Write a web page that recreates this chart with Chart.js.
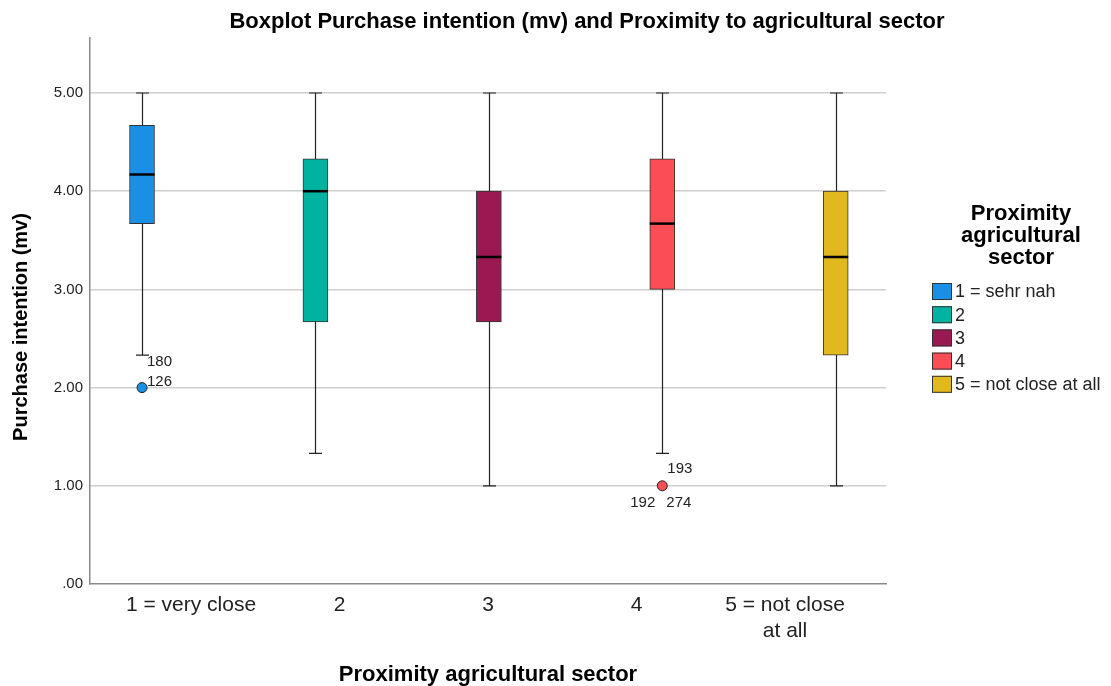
<!DOCTYPE html>
<html>
<head>
<meta charset="utf-8">
<script src="https://cdn.jsdelivr.net/npm/chart.js@4.4.0/dist/chart.umd.min.js"></script>
<style>
  html, body { margin: 0; padding: 0; background: #fff; }
  #wrap { width: 1111px; height: 686px; position: relative; }
</style>
</head>
<body>
<div id="wrap"><canvas id="myChart"></canvas></div>
<script>
// data
const groups = ['1 = very close', '2', '3', '4', ['5 = not close', 'at all']];
const legendLabels = ['1 = sehr nah', '2', '3', '4', '5 = not close at all'];
const colors = ['#1a8fe6', '#00b3a0', '#9c1852', '#fb4d56', '#e1b81d'];
const whiskerLow = [2.33, 1.33, 1.00, 1.33, 1.00];
const q1 = [3.67, 2.67, 2.67, 3.00, 2.33];
const median = [4.17, 4.00, 3.33, 3.67, 3.33];
const q3 = [4.67, 4.33, 4.00, 4.33, 4.00];
const whiskerHigh = [5.00, 5.00, 5.00, 5.00, 5.00];
const outlierGroup = [1, 4];
const outlierValue = [2.00, 1.00];
const outlierCases = [['126', '180'], ['193', '192', '274']];
const yTicks = [0, 1, 2, 3, 4, 5];

const FONT = 'Liberation Sans, Arial, sans-serif';
const mainTitle = 'Boxplot Purchase intention (mv) and Proximity to agricultural sector';
const yTitle = 'Purchase intention (mv)';
const legendTitle = ['Proximity', 'agricultural', 'sector'];

const ctx = document.getElementById('myChart');

// whiskers + caps under the boxes, medians and case labels over them
const boxParts = {
  id: 'boxParts',
  beforeDatasetsDraw(chart) {
    const c = chart.ctx, xs = chart.scales.x, ys = chart.scales.y;
    c.save();
    c.strokeStyle = '#222';
    c.lineWidth = 1.2;
    for (let i = 0; i < groups.length; i++) {
      const px = Math.round(xs.getPixelForValue(i + 1)) + 0.5;
      const lo = ys.getPixelForValue(whiskerLow[i]);
      const hi = ys.getPixelForValue(whiskerHigh[i]);
      c.beginPath();
      c.moveTo(px, lo); c.lineTo(px, hi);
      c.moveTo(px - 6.5, lo); c.lineTo(px + 6.5, lo);
      c.moveTo(px - 6.5, hi); c.lineTo(px + 6.5, hi);
      c.stroke();
    }
    c.restore();
  },
  afterDatasetsDraw(chart) {
    const c = chart.ctx, xs = chart.scales.x, ys = chart.scales.y;
    c.save();
    c.strokeStyle = '#000';
    c.lineWidth = 2.5;
    for (let i = 0; i < groups.length; i++) {
      const px = xs.getPixelForValue(i + 1);
      const py = ys.getPixelForValue(median[i]);
      c.beginPath();
      c.moveTo(px - 12.5, py); c.lineTo(px + 12.5, py);
      c.stroke();
    }
    c.fillStyle = '#222';
    c.font = '15px ' + FONT;
    c.textBaseline = 'middle';
    const p0x = xs.getPixelForValue(outlierGroup[0]), p0y = ys.getPixelForValue(outlierValue[0]);
    c.textAlign = 'left';
    c.fillText(outlierCases[0][0], p0x + 5, p0y - 6);
    c.fillText(outlierCases[0][1], p0x + 5, p0y - 26);
    const p1x = xs.getPixelForValue(outlierGroup[1]), p1y = ys.getPixelForValue(outlierValue[1]);
    c.fillText(outlierCases[1][0], p1x + 5, p1y - 17);
    c.textAlign = 'right';
    c.fillText(outlierCases[1][1], p1x - 7, p1y + 17);
    c.textAlign = 'left';
    c.fillText(outlierCases[1][2], p1x + 4, p1y + 17);
    c.restore();
  }
};

// titles and the legend on the right
const decor = {
  id: 'decor',
  afterDraw(chart) {
    const c = chart.ctx, ys = chart.scales.y;
    c.save();
    c.fillStyle = '#000';
    c.textBaseline = 'middle';
    c.textAlign = 'center';
    c.font = 'bold 22px ' + FONT;
    c.fillText(mainTitle, 587, 22);

    c.save();
    c.translate(21, (ys.top + ys.bottom) / 2 + 16);
    c.rotate(-Math.PI / 2);
    c.font = 'bold 20px ' + FONT;
    c.fillText(yTitle, 0, 0);
    c.restore();

    c.font = 'bold 22px ' + FONT;
    legendTitle.forEach((t, k) => c.fillText(t, 1021, 214 + k * 22));
    c.font = '18px ' + FONT;
    c.textAlign = 'left';
    legendLabels.forEach((t, i) => {
      const y = 291.5 + i * 23.2;
      c.fillStyle = colors[i];
      c.fillRect(932, y - 8.5, 20, 17);
      c.strokeStyle = '#333';
      c.lineWidth = 1;
      c.strokeRect(932.5, y - 8, 19, 16);
      c.fillStyle = '#222';
      c.fillText(t, 955, y + 1);
    });
    c.restore();
  }
};

new Chart(ctx, {
  data: {
    datasets: [{
      type: 'bar',
      label: 'box',
      data: groups.map((g, i) => ({ x: i + 1, y: [q1[i], q3[i]] })),
      backgroundColor: colors,
      borderColor: '#333',
      borderWidth: 1,
      borderSkipped: false,
      barThickness: 25,
      grouped: false,
      xAxisID: 'x',
      yAxisID: 'y'
    }, {
      type: 'scatter',
      label: 'outliers',
      data: outlierGroup.map((g, i) => ({ x: g, y: outlierValue[i] })),
      pointBackgroundColor: outlierGroup.map(g => colors[g - 1]),
      pointBorderColor: '#222',
      pointBorderWidth: 1,
      pointRadius: 5,
      xAxisID: 'x',
      yAxisID: 'y'
    }]
  },
  options: {
    responsive: true,
    maintainAspectRatio: false,
    animation: false,
    layout: { padding: { top: 38, right: 225, left: 0, bottom: 0 } },
    plugins: {
      legend: { display: false },
      tooltip: { enabled: false },
      title: { display: false }
    },
    scales: {
      x: {
        type: 'linear',
        min: 0.7,
        max: 5.29,
        offset: false,
        position: 'bottom',
        weight: 0,
        ticks: { display: false },
        grid: { display: false, drawTicks: false },
        border: { display: true, color: '#8a8a8a', width: 1.5 },
        afterFit: s => { s.height = 0; }
      },
      xl: {
        type: 'linear',
        min: 0.32,
        max: 5.68,
        offset: false,
        position: 'bottom',
        weight: 1,
        afterBuildTicks: s => { s.ticks = groups.map((g, i) => ({ value: i + 1 })); },
        afterFit: s => { s.height = 102; },
        grid: { display: false, drawTicks: false },
        border: { display: false },
        ticks: {
          color: '#222',
          font: { family: FONT, size: 21 },
          padding: 9,
          maxRotation: 0,
          autoSkip: false,
          callback: v => groups[v - 1]
        },
        title: {
          display: true,
          text: 'Proximity agricultural sector',
          color: '#000',
          font: { family: FONT, size: 22, weight: 'bold', lineHeight: 1.0 },
          padding: { top: 0, bottom: 0 }
        }
      },
      y: {
        min: 0,
        max: 5.56,
        afterBuildTicks: s => { s.ticks = yTicks.map(v => ({ value: v })); },
        afterFit: s => { s.width = 90; },
        grid: {
          drawTicks: false,
          color: c => c.tick && c.tick.value === 0 ? 'rgba(0,0,0,0)' : '#cfcfcf',
          lineWidth: 1.5
        },
        border: { display: true, color: '#8a8a8a', width: 1.5 },
        ticks: {
          color: '#222',
          padding: 7,
          font: { family: FONT, size: 15 },
          callback: v => v === 0 ? '.00' : v.toFixed(2)
        }
      }
    }
  },
  plugins: [boxParts, decor]
});
</script>
</body>
</html>
